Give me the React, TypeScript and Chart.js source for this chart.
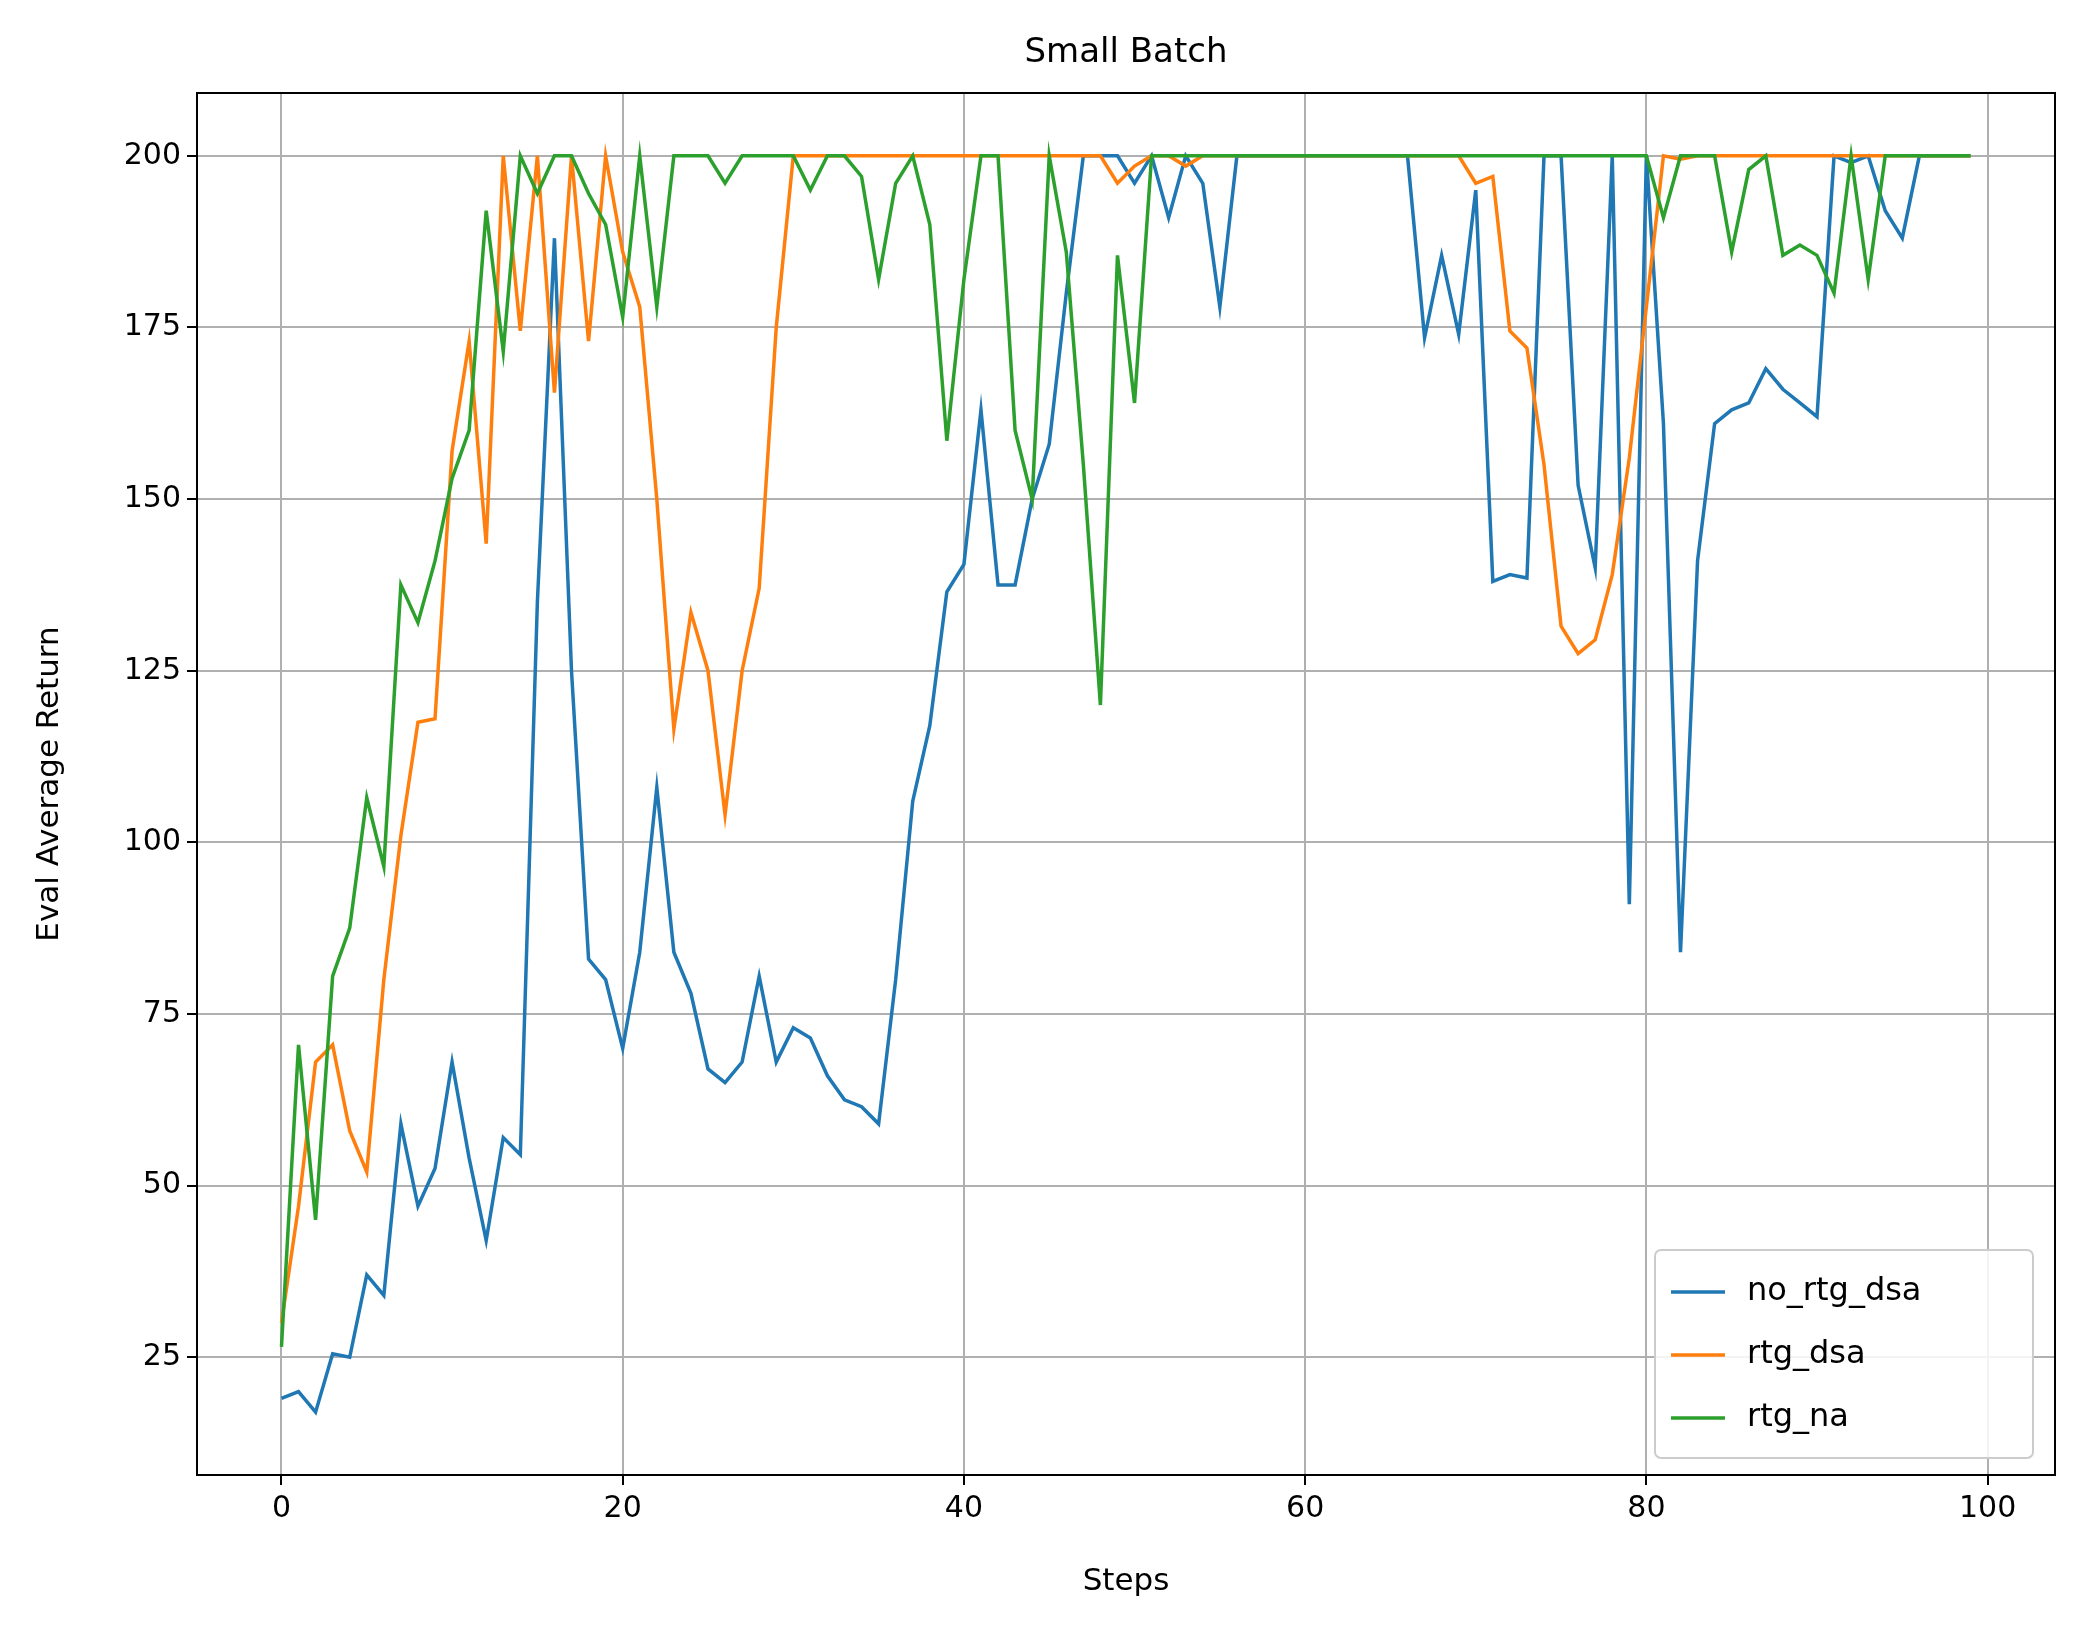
import { useEffect, useRef } from 'react';
import { Chart, registerables } from 'chart.js';

Chart.register(...registerables);

const steps = Array.from({ length: 100 }, (_, i) => i);

const noRtgDsa = [
  19, 20, 17, 25.5, 25, 37, 34, 59, 47, 52.5,
  68, 54, 42, 57, 54.5, 135, 188, 125, 83, 80,
  70, 84, 108, 84, 78, 67, 65, 68, 80.5, 68,
  73, 71.5, 66, 62.5, 61.5, 59, 80, 106, 117, 136.5,
  140.5, 163, 137.5, 137.5, 150, 158, 180, 200, 200, 200,
  196, 200, 191, 200, 196, 178, 200, 200, 200, 200,
  200, 200, 200, 200, 200, 200, 200, 173.5, 185.5, 174,
  195, 138, 139, 138.5, 200, 200, 152, 140, 200, 91,
  200, 161, 84, 141, 161, 163, 164, 169, 166, 164,
  162, 200, 199, 200, 192, 188, 200, 200, 200, 200,
];

const rtgDsa = [
  30, 47, 68, 70.5, 58, 52, 80, 101, 117.5, 118,
  157, 173, 143.5, 200, 174.5, 200, 165.5, 200, 173, 200,
  186, 178, 150, 116.5, 133.5, 125, 104, 125, 137, 175,
  200, 200, 200, 200, 200, 200, 200, 200, 200, 200,
  200, 200, 200, 200, 200, 200, 200, 200, 200, 196,
  198.5, 200, 200, 198.5, 200, 200, 200, 200, 200, 200,
  200, 200, 200, 200, 200, 200, 200, 200, 200, 200,
  196, 197, 174.5, 172, 155, 131.5, 127.5, 129.5, 139, 156,
  178, 200, 199.5, 200, 200, 200, 200, 200, 200, 200,
  200, 200, 200, 200, 200, 200, 200, 200, 200, 200,
];

const rtgNa = [
  26.5, 70.5, 45, 80.5, 87.5, 106.5, 96.5, 137.5, 132, 141,
  153, 160, 192, 171.5, 200, 194.5, 200, 200, 194.5, 190,
  176.5, 200, 178, 200, 200, 200, 196, 200, 200, 200,
  200, 195, 200, 200, 197, 182, 196, 200, 190, 158.5,
  182, 200, 200, 160, 150, 200, 186, 155, 120, 185.5,
  164, 200, 200, 200, 200, 200, 200, 200, 200, 200,
  200, 200, 200, 200, 200, 200, 200, 200, 200, 200,
  200, 200, 200, 200, 200, 200, 200, 200, 200, 200,
  200, 191, 200, 200, 200, 186, 198, 200, 185.5, 187,
  185.5, 180, 200, 182, 200, 200, 200, 200, 200, 200,
];

const seriesNames = ['no_rtg_dsa', 'rtg_dsa', 'rtg_na'];
const seriesColors = ['#1f77b4', '#ff7f0e', '#2ca02c'];
const xTicks = [0, 20, 40, 60, 80, 100];
const yTicks = [25, 50, 75, 100, 125, 150, 175, 200];

const FONT = 'DejaVu Sans';

const frame = {
  id: 'frame',
  afterDraw(chart: any) {
    const { ctx, chartArea: a } = chart;
    ctx.save();
    ctx.strokeStyle = '#000';
    ctx.lineWidth = 2;
    ctx.strokeRect(a.left, a.top, a.right - a.left, a.bottom - a.top);

    ctx.fillStyle = '#000';
    ctx.font = `34px "${FONT}"`;
    ctx.textAlign = 'center';
    ctx.textBaseline = 'alphabetic';
    ctx.fillText('Small Batch', (a.left + a.right) / 2, 62);

    // axis titles
    ctx.font = `31px "${FONT}"`;
    ctx.textBaseline = 'middle';
    ctx.fillText('Steps', (a.left + a.right) / 2, 1582);
    ctx.save();
    ctx.translate(50, (a.top + a.bottom) / 2);
    ctx.rotate(-Math.PI / 2);
    ctx.fillText('Eval Average Return', 0, 0);
    ctx.restore();

    // legend
    const bx = 1655, by = 1250, bw = 378, bh = 208;
    ctx.fillStyle = 'rgba(255,255,255,0.85)';
    ctx.strokeStyle = '#cccccc';
    ctx.lineWidth = 2;
    ctx.beginPath();
    ctx.roundRect(bx, by, bw, bh, 6);
    ctx.fill();
    ctx.stroke();
    ctx.font = `32px "${FONT}"`;
    ctx.textAlign = 'left';
    seriesNames.forEach((n, i) => {
      const y = by + 42 + i * 63;
      ctx.strokeStyle = seriesColors[i];
      ctx.lineWidth = 3.5;
      ctx.beginPath();
      ctx.moveTo(bx + 16, y);
      ctx.lineTo(bx + 70, y);
      ctx.stroke();
      ctx.fillStyle = '#000';
      ctx.fillText(n, bx + 92, y);
    });
    ctx.restore();
  },
};

export default function App() {
  const ref = useRef<HTMLCanvasElement>(null);

  useEffect(() => {
    document.body.style.margin = '0';
    if (!ref.current) return;
    const all = [noRtgDsa, rtgDsa, rtgNa];
    const chart = new Chart(ref.current, {
      type: 'line',
      data: {
        datasets: all.map((vals, i) => ({
          label: seriesNames[i],
          data: steps.map((s, j) => ({ x: s, y: vals[j] })),
          borderColor: seriesColors[i],
          borderWidth: 3.5,
          pointRadius: 0,
          tension: 0,
          order: 2 - i,
        })),
      },
      options: {
        responsive: false,
        animation: false,
        devicePixelRatio: 1,
        layout: { padding: { top: 93, right: 29, left: 0, bottom: 0 } },
        plugins: { legend: { display: false }, tooltip: { enabled: false } },
        scales: {
          x: {
            type: 'linear',
            min: -4.95,
            max: 103.95,
            afterBuildTicks: (s: any) => { s.ticks = xTicks.map(v => ({ value: v })); },
            afterFit: (s: any) => { s.height = 163; },
            grid: { color: '#b0b0b0', lineWidth: 2, tickLength: 10, tickColor: '#000' },
            border: { display: false },
            ticks: { color: '#000', font: { family: FONT, size: 30 }, padding: 6 },
          },
          y: {
            min: 7.85,
            max: 209.15,
            afterBuildTicks: (s: any) => { s.ticks = yTicks.map(v => ({ value: v })); },
            afterFit: (s: any) => { s.width = 197; },
            grid: { color: '#b0b0b0', lineWidth: 2, tickLength: 10, tickColor: '#000' },
            border: { display: false },
            ticks: { color: '#000', font: { family: FONT, size: 30 }, padding: 6 },
          },
        },
      },
      plugins: [frame],
    });
    return () => chart.destroy();
  }, []);

  return (
    <div style={{ width: 2084, height: 1638, background: '#fff' }}>
      <canvas ref={ref} width={2084} height={1638} />
    </div>
  );
}
